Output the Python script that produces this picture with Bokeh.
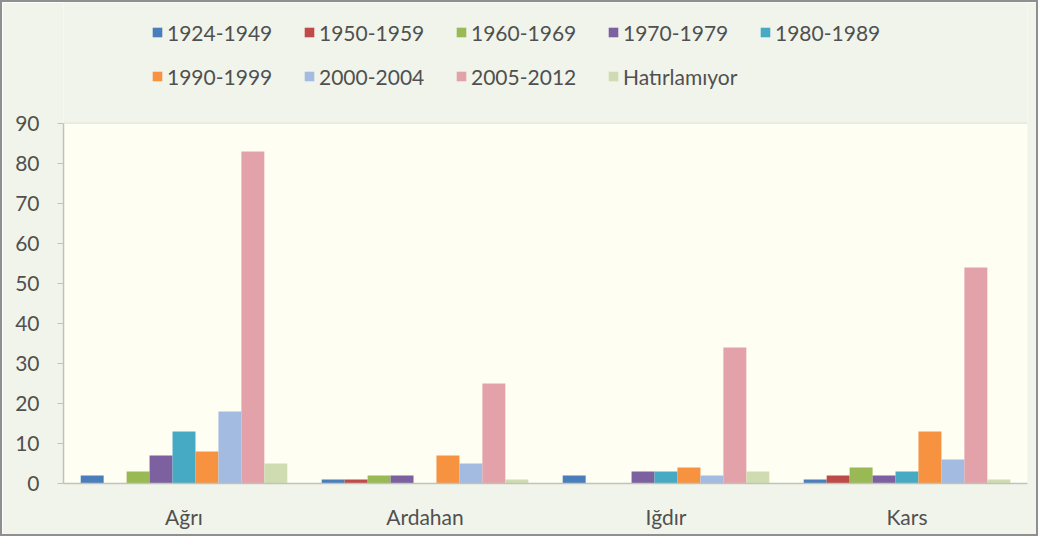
from bokeh.plotting import figure
from bokeh.models import ColumnDataSource, FactorRange, Legend, FixedTicker, BoxAnnotation, Range1d
from bokeh.transform import dodge
from bokeh.embed import file_html
from bokeh.resources import INLINE

categories = ["Ağrı", "Ardahan", "Iğdır", "Kars"]
series_names = ["1924-1949", "1950-1959", "1960-1969", "1970-1979", "1980-1989",
                "1990-1999", "2000-2004", "2005-2012", "Hatırlamıyor"]

v1924_1949 = [2, 1, 2, 1]
v1950_1959 = [0, 1, 0, 2]
v1960_1969 = [3, 2, 0, 4]
v1970_1979 = [7, 2, 3, 2]
v1980_1989 = [13, 0, 3, 3]
v1990_1999 = [8, 7, 4, 13]
v2000_2004 = [18, 5, 2, 6]
v2005_2012 = [83, 25, 34, 54]
vHatirlamiyor = [5, 1, 3, 1]

series_values = [v1924_1949, v1950_1959, v1960_1969, v1970_1979, v1980_1989,
                 v1990_1999, v2000_2004, v2005_2012, vHatirlamiyor]

colors = ["#4A7EBB", "#BE4B48", "#98B954", "#7D60A0", "#46AAC5",
          "#F69240", "#A3BBE0", "#E3A2AA", "#CFDCB2"]

y_ticks = [0, 10, 20, 30, 40, 50, 60, 70, 80, 90]
y_max = 90

FONT = "Lato"
TEXT = "#505050"
OUTER = "#F1F4EB"
INNER = "#FEFEF3"

src = ColumnDataSource(data={"cat": categories,
                             **{f"s{i}": vals for i, vals in enumerate(series_values)}})

H, BOTTOM, PLOT_H = 536, 55, 360
frame_h = H - BOTTOM
p = figure(x_range=FactorRange(*categories, range_padding=0),
           y_range=Range1d(0, y_max * frame_h / PLOT_H),
           width=1038, height=H, output_backend="svg", toolbar_location=None,
           min_border_left=61, min_border_right=13, min_border_top=0, min_border_bottom=BOTTOM)
p.styles = {"border": "2px solid #8f8f8f"}

p.add_layout(BoxAnnotation(bottom=0, top=y_max, fill_color=INNER, fill_alpha=1,
                           line_color=None, level="underlay"))

n = len(series_names)
gap = 1.5
bw = 1.0 / (n + gap)
renderers = []
for i, name in enumerate(series_names):
    off = (i - (n - 1) / 2) * bw
    r = p.vbar(x=dodge("cat", off, range=p.x_range), top=f"s{i}", width=bw,
               source=src, fill_color=colors[i], line_color=None)
    renderers.append((name, [r]))

legend = Legend(items=renderers, location=(88, 392), orientation="horizontal", ncols=5,
                glyph_width=12, glyph_height=12, label_width=122, label_standoff=4,
                spacing=14, label_height=30, padding=0, margin=0,
                label_text_font=FONT, label_text_font_size="21px", label_text_color=TEXT,
                background_fill_alpha=0, border_line_color=None)
p.add_layout(legend, "center")

p.background_fill_color = OUTER
p.border_fill_color = OUTER
p.outline_line_color = None

p.xgrid.grid_line_color = None
p.ygrid.grid_line_color = "#D5D8CB"
p.ygrid.grid_line_width = 1.5
p.yaxis.ticker = FixedTicker(ticks=y_ticks)
p.yaxis.bounds = (0, y_max)

for ax in (p.xaxis, p.yaxis):
    ax.axis_line_color = "#BFC3B8"
    ax.axis_line_width = 1.5
    ax.major_label_text_font = FONT
    ax.major_label_text_font_size = "21px"
    ax.major_label_text_color = TEXT
    ax.minor_tick_line_color = None

p.yaxis.major_tick_line_color = "#BFC3B8"
p.yaxis.major_tick_out = 6
p.yaxis.major_tick_in = 0
p.yaxis.major_label_standoff = 18
p.xaxis.major_tick_line_color = None
p.xaxis.major_label_standoff = 14

open("out.html", "w").write(file_html(p, INLINE))
